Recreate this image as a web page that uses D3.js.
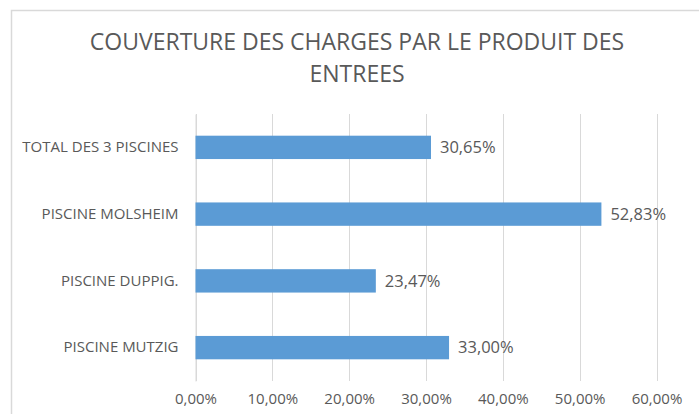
<!DOCTYPE html>
<html>
<head>
<meta charset="utf-8">
<script src="https://cdn.jsdelivr.net/npm/d3@7"></script>
<style>
  body { margin: 0; background: #fff; }
  svg text { font-family: "Open Sans", sans-serif; fill: #595959; }
</style>
</head>
<body>
<svg id="chart" width="699" height="414"></svg>
<script>
// values
const categories = ['TOTAL DES 3 PISCINES', 'PISCINE MOLSHEIM', 'PISCINE DUPPIG.', 'PISCINE MUTZIG'];
const coverage = [0.3065, 0.5283, 0.2347, 0.33];
const tickValues = [0, 0.1, 0.2, 0.3, 0.4, 0.5, 0.6];
const titleLines = ['COUVERTURE DES CHARGES PAR LE PRODUIT DES', 'ENTREES'];

const fr = d3.formatLocale({ decimal: ',', thousands: ' ', grouping: [3], currency: ['', ' €'] });
const pct = fr.format('.2%');

const svg = d3.select('#chart');

// chart frame (runs off the right and bottom edge)
svg.append('rect')
  .attr('x', 11.5).attr('y', 10.5)
  .attr('width', 800).attr('height', 500)
  .attr('fill', '#fff')
  .attr('stroke', '#d9d9d9')
  .attr('stroke-width', 1.5);

// title
svg.append('g').selectAll('text')
  .data(titleLines)
  .enter().append('text')
    .attr('x', 357)
    .attr('y', (d, i) => 50 + i * 32)
    .attr('text-anchor', 'middle')
    .style('font-size', '23px')
    .text(d => d);

const x = d3.scaleLinear().domain([0, 0.6]).range([195.5, 656.5]);
const y = d3.scaleBand().domain(categories).range([114, 381])
  .paddingInner(0.65).paddingOuter(0.325);

// gridlines
svg.append('g').selectAll('line')
  .data(tickValues)
  .enter().append('line')
    .attr('x1', d => Math.round(x(d)) + 0.5)
    .attr('x2', d => Math.round(x(d)) + 0.5)
    .attr('y1', 114).attr('y2', 381)
    .attr('stroke', '#d9d9d9')
    .attr('stroke-width', 1);

// x axis labels
const xAxis = svg.append('g')
  .attr('transform', 'translate(0,381)')
  .call(d3.axisBottom(x).tickValues(tickValues).tickFormat(pct).tickSize(0).tickPadding(12));
xAxis.select('.domain').remove();
xAxis.selectAll('text').style('font-size', '15px').attr('fill', '#595959');

// y axis labels
const yAxis = svg.append('g')
  .attr('transform', 'translate(195.5,0)')
  .call(d3.axisLeft(y).tickSize(0).tickPadding(17));
yAxis.select('.domain').attr('stroke', '#d9d9d9');
yAxis.selectAll('text').style('font-size', '15px').attr('fill', '#595959');

// bars
svg.append('g').selectAll('rect')
  .data(coverage)
  .enter().append('rect')
    .attr('x', x(0))
    .attr('y', (d, i) => y(categories[i]))
    .attr('width', d => x(d) - x(0))
    .attr('height', y.bandwidth())
    .attr('fill', '#5b9bd5');

// data labels
svg.append('g').selectAll('text')
  .data(coverage)
  .enter().append('text')
    .attr('x', d => x(d) + 9)
    .attr('y', (d, i) => y(categories[i]) + y.bandwidth() / 2)
    .attr('dy', '0.35em')
    .style('font-size', '16.5px')
    .text(d => pct(d));
</script>
</body>
</html>
